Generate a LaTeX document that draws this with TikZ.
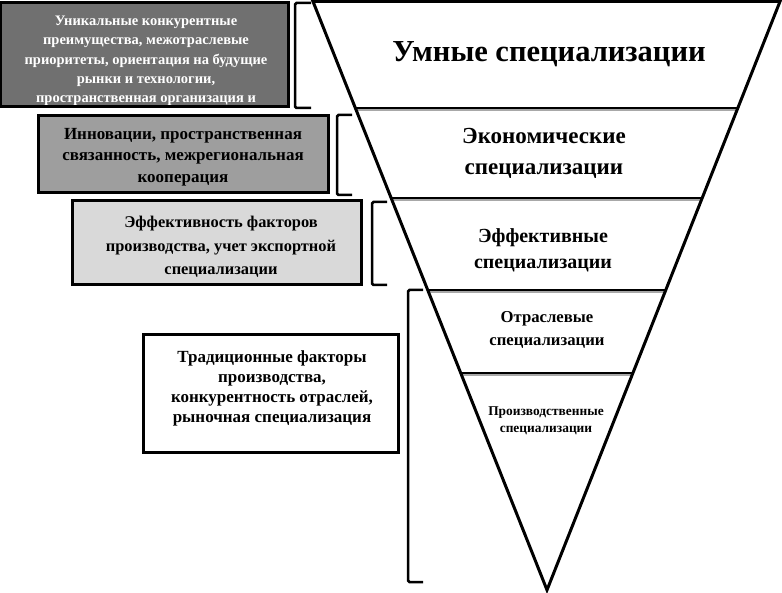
\documentclass[tikz,border=0pt]{standalone}
\usepackage{fontspec}
\setmainfont{Liberation Serif}
\definecolor{gA}{HTML}{707070}
\definecolor{gB}{HTML}{9E9E9E}
\definecolor{gC}{HTML}{D9D9D9}
\definecolor{shadow}{HTML}{A8A8A8}
\begin{document}
\begin{tikzpicture}[x=1pt,y=-1pt,
  boxfill/.style={rectangle, inner sep=0pt, draw=black, line width=3pt},
  boxtext/.style={align=center, inner sep=0pt},
  brk/.style={draw=black, line width=2.5pt, rounded corners=1.5pt},
  lvl/.style={align=center, inner sep=0pt},
  divider/.style={draw=black, line width=2.5pt},
  divshadow/.style={draw=shadow, line width=2pt}]
\useasboundingbox (0,0) rectangle (782,593);

% inverted triangle
\coordinate (TL) at (313,1.5);
\coordinate (TR) at (780,1.5);
\coordinate (AP) at (547,590);
\fill[white] (TL) -- (TR) -- (AP) -- cycle;
\begin{scope}
  \clip (TL) -- (TR) -- (AP) -- cycle;
  \foreach \yy in {108,198,290,373}{
    \draw[divshadow] (300,\yy+2.5) -- (790,\yy+2.5);
    \draw[divider] (300,\yy) -- (790,\yy);
  }
\end{scope}
\draw[line width=3pt, line join=miter] (TL) -- (TR) -- (AP) -- cycle;

% level labels
\node[lvl, font=\fontsize{30.5}{34}\selectfont\bfseries] (l1) at (549,54) {Умные специализации};
\node[lvl, font=\fontsize{23}{31}\selectfont\bfseries] (l2) at (544,153) {Экономические\\специализации};
\node[lvl, font=\fontsize{20}{26}\selectfont\bfseries] (l3) at (543,250) {Эффективные\\специализации};
\node[lvl, font=\fontsize{16.7}{23}\selectfont\bfseries] (l4) at (547,330) {Отраслевые\\специализации};
\node[lvl, font=\fontsize{13.4}{17}\selectfont\bfseries] (l5) at (546,421) {Производственные\\специализации};

% box 1 (text cut off by the frame)
\node[rectangle, fill=gA, minimum width=287pt, minimum height=103pt, inner sep=0pt] (b1) at (144.5,54.5) {};
\begin{scope}
  \clip (b1.south west) rectangle (b1.north east);
  \node[boxtext, text=white, font=\fontsize{14.5}{19.3}\selectfont\bfseries, anchor=north] (t1) at (146,16)
    {Уникальные конкурентные\\преимущества, межотраслевые\\приоритеты, ориентация на будущие\\рынки и технологии,\\пространственная организация и};
\end{scope}
\draw[line width=3pt] (b1.south west) rectangle (b1.north east);

% box 2
\node[boxfill, fill=gB, minimum width=290pt, minimum height=77pt] (b2) at (183,154.5) {};
\node[boxtext, font=\fontsize{17}{21.5}\selectfont\bfseries] (t2) at (183,157)
  {Инновации, пространственная\\связанность, межрегиональная\\кооперация};

% box 3
\node[boxfill, fill=gC, minimum width=289pt, minimum height=84pt] (b3) at (216.5,243) {};
\node[boxtext, font=\fontsize{16.4}{23.5}\selectfont\bfseries] (t3) at (221,247)
  {Эффективность факторов\\производства, учет экспортной\\специализации};

% box 4
\node[boxfill, fill=white, minimum width=255pt, minimum height=118pt] (b4) at (270.5,394) {};
\node[boxtext, font=\fontsize{17}{20}\selectfont\bfseries] (t4) at (272,388)
  {Традиционные факторы\\производства,\\конкурентность отраслей,\\рыночная специализация};

% brackets
\draw[brk] (311,3) -- (295,3) -- (295,108) -- (311,108);
\draw[brk] (352,115) -- (337,115) -- (337,195) -- (352,195);
\draw[brk] (387,202) -- (372,202) -- (372,285) -- (387,285);
\draw[brk] (423,290) -- (408,290) -- (408,582) -- (423,582);
\end{tikzpicture}
\end{document}
